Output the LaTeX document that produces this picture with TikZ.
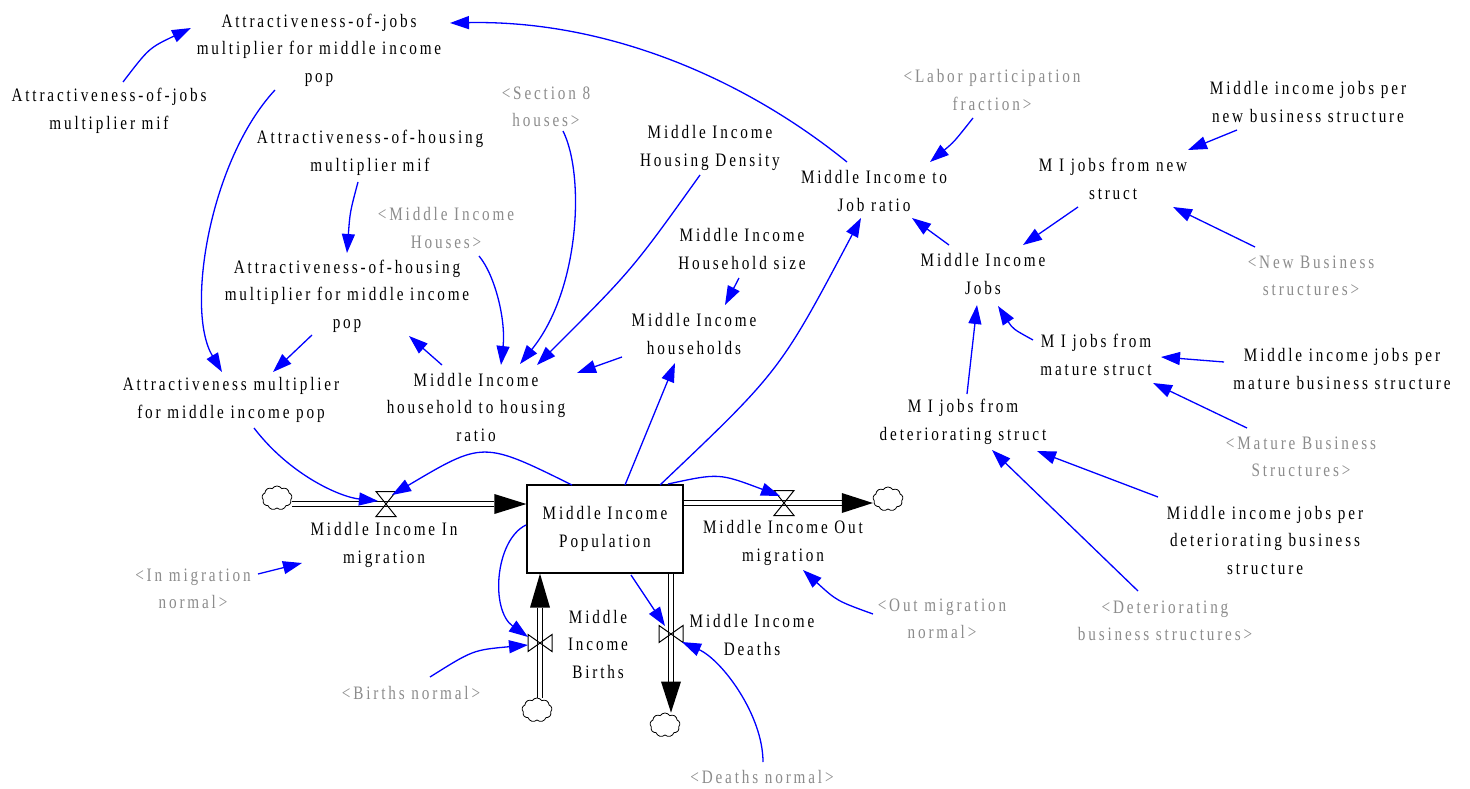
\documentclass[tikz,border=0pt]{standalone}
\usepackage{fontspec}
\setmainfont{Liberation Serif}[FakeStretch=0.8, LetterSpace=15]
\usetikzlibrary{arrows.meta,shapes.symbols,calc}
\definecolor{linkblue}{RGB}{0,0,255}
\definecolor{shadowtext}{RGB}{140,140,140}

\begin{document}
\begin{tikzpicture}[x=1pt,y=-1pt,
  var/.style={align=center, font=\fontsize{19}{27.5}\selectfont, inner sep=0pt},
  shadowvar/.style={var, text=shadowtext},
  link/.style={draw=linkblue, line width=1.3pt, -{Triangle[length=19pt,width=13pt]}},
  pipe/.style={draw=black, line width=1.1pt, double=white, double distance=4pt},
  cloudy/.style={cloud, cloud puffs=9, cloud puff arc=115, cloud ignores aspect,
    draw, line width=0.8pt, minimum width=30pt, minimum height=24pt, inner sep=0pt},
  hvalve/.pic={\draw[line width=1pt] (-10,-12.5) -- (10,-12.5) -- (-10,12.5) -- (10,12.5) -- cycle;},
  vvalve/.pic={\draw[line width=1pt] (-12,-8.5) -- (-12,8.5) -- (12,-8.5) -- (12,8.5) -- cycle;}
]
\fill[white] (0,0) rectangle (1470,789);
\useasboundingbox (0,0) rectangle (1470,789);

% ---- auxiliary variables ----
\node[var] (aojMulti) at (319,50) {Attractiveness-of-jobs\\multiplier for middle income\\pop};
\node[var] (aojMif) at (109,111) {Attractiveness-of-jobs\\multiplier mif};
\node[var] (aohMif) at (370,153) {Attractiveness-of-housing\\multiplier mif};
\node[shadowvar] (sec8) at (546,107) {<Section 8\\houses>};
\node[var] (density) at (710,148) {Middle Income\\Housing Density};
\node[var] (ratioJ) at (874,191) {Middle Income to\\Job ratio};
\node[shadowvar] (labor) at (992,90) {<Labor participation\\fraction>};
\node[var] (jpNew) at (1308,102) {Middle income jobs per\\new business structure};
\node[var] (mjNew) at (1113,179) {M I jobs from new\\struct};
\node[shadowvar] (mih) at (446,228) {<Middle Income\\Houses>};
\node[var] (hhsize) at (742,249) {Middle Income\\Household size};
\node[var] (jobs) at (983,274) {Middle Income\\Jobs};
\node[shadowvar] (newBS) at (1311,276) {<New Business\\structures>};
\node[var] (aohMulti) at (347,296) {Attractiveness-of-housing\\multiplier for middle income\\pop};
\node[var] (hholds) at (694,334) {Middle Income\\households};
\node[var] (attrMulti) at (231,400) {Attractiveness multiplier\\for middle income pop};
\node[var] (hhratio) at (476,407) {Middle Income\\household to housing\\ratio};
\node[var] (mjMature) at (1096,355) {M I jobs from\\mature struct};
\node[var] (jpMature) at (1342,369) {Middle income jobs per\\mature business structure};
\node[var] (mjDet) at (963,422) {M I jobs from\\deteriorating struct};
\node[shadowvar] (matureBS) at (1301,457) {<Mature Business\\Structures>};
\node[var] (jpDet) at (1265,540) {Middle income jobs per\\deteriorating business\\structure};
\node[shadowvar] (detBS) at (1165,621) {<Deteriorating\\business structures>};
\node[shadowvar] (inNorm) at (193,589) {<In migration\\normal>};
\node[shadowvar] (outNorm) at (942,619) {<Out migration\\normal>};
\node[shadowvar] (birthsNorm) at (411,693) {<Births normal>};
\node[shadowvar] (deathsNorm) at (762,777) {<Deaths normal>};

% ---- stock ----
\node[var, draw, line width=1.2pt, minimum width=156pt, minimum height=88pt] (stock) at (605,529) {Middle Income\\Population};

% ---- flow labels ----
\node[var] (inLbl) at (384,545) {Middle Income In\\migration};
\node[var] (outLbl) at (783,543) {Middle Income Out\\migration};
\node[var] (birthsLbl) at (598,644) {Middle\\Income\\Births};
\node[var] (deathsLbl) at (752,635) {Middle Income\\Deaths};

% ---- sources and sinks ----
\node[cloudy] (cin) at (277,498) {};
\node[cloudy] (cout) at (888,499) {};
\node[cloudy] (cbirth) at (537,710) {};
\node[cloudy] (cdeath) at (665,725) {};

% ---- valves ----
\coordinate (vin) at (386,504);
\coordinate (vout) at (784,503);
\coordinate (vbirth) at (540,643);
\coordinate (vdeath) at (671,634);

% ---- pipes ----
\draw[pipe] (cin.east |- vin) -- ($(stock.west |- vin)+(-32,0)$);
\fill (stock.west |- vin) -- ++(-32,-10) -- ++(0,20) -- cycle;
\draw[pipe] (stock.east |- vout) -- ($(cout.west |- vout)+(-31,0)$);
\fill (cout.west |- vout) -- ++(-31,-10) -- ++(0,20) -- cycle;
\draw[pipe] (vbirth |- cbirth.north) -- ($(vbirth |- stock.south)+(0,34)$);
\fill (vbirth |- stock.south) -- ++(-10,34) -- ++(20,0) -- cycle;
\draw[pipe] (vdeath |- stock.south) -- ($(vdeath |- cdeath.north)+(0,-31)$);
\fill (vdeath |- cdeath.north) -- ++(-10,-31) -- ++(20,0) -- cycle;

\pic at (vin) {hvalve};
\pic at (vout) {hvalve};
\pic at (vbirth) {vvalve};
\pic at (vdeath) {vvalve};

% ---- causal links ----
\draw[link] ($(aojMif)+(14,-29)$) .. controls (149,48) .. ($(aojMulti)+(-128,-22)$);
\draw[link] ($(ratioJ)+(-27,-29)$) .. controls (737,73) and (600,20) .. ($(aojMulti)+(131,-27)$);
\draw[link] ($(aojMulti)+(-44,40)$) .. controls (210,160) and (185,310) .. ($(attrMulti)+(-9,-28)$);
\draw[link] ($(aohMif)+(-12,29)$) .. controls (350,212) .. ($(aohMulti)+(0,-43)$);
\draw[link] ($(aohMulti)+(-35,39)$) -- ($(attrMulti)+(42,-28)$);
\draw[link] ($(hhratio)+(-34,-42)$) -- ($(aohMulti)+(62,40)$);
\draw[link] ($(mih)+(33,28)$) .. controls (495,275) and (506,320) .. ($(hhratio)+(25,-42)$);
\draw[link] ($(sec8)+(17,24)$) .. controls (585,175) and (580,290) .. ($(hhratio)+(44,-43)$);
\draw[link] ($(density)+(-10,27)$) .. controls (632,270) .. ($(hhratio)+(61,-42)$);
\draw[link] ($(hholds)+(-72,23)$) -- ($(hhratio)+(101,-34)$);
\draw[link] ($(hhsize)+(-3,29)$) -- ($(hholds)+(31,-29)$);
\draw[link] ($(stock)+(20,-44)$) -- ($(hholds)+(-19,29)$);
\draw[link] ($(stock)+(55,-44)$) .. controls (780,371) .. ($(ratioJ)+(-13,27)$);
\draw[link] ($(jobs)+(-34,-29)$) -- ($(ratioJ)+(38,27)$);
\draw[link] ($(labor)+(-19,28)$) .. controls (954,142) .. ($(ratioJ)+(56,-29)$);
\draw[link] ($(jpNew)+(-71,28)$) -- ($(mjNew)+(75,-29)$);
\draw[link] ($(newBS)+(-56,-29)$) -- ($(mjNew)+(60,28)$);
\draw[link] ($(mjNew)+(-35,28)$) -- ($(jobs)+(40,-29)$);
\draw[link] ($(mjMature)+(-63,-15)$) .. controls (1013,329) .. ($(jobs)+(15,32)$);
\draw[link] ($(mjDet)+(4,-28)$) -- ($(jobs)+(-6,31)$);
\draw[link] ($(jpMature)+(-118,-7)$) -- ($(mjMature)+(65,2)$);
\draw[link] ($(matureBS)+(-54,-29)$) -- ($(mjMature)+(57,28)$);
\draw[link] ($(jpDet)+(-107,-43)$) -- ($(mjDet)+(74,29)$);
\draw[link] ($(detBS)+(-27,-30)$) -- ($(mjDet)+(29,28)$);
\draw[link] ($(attrMulti)+(23,28)$) .. controls (290,475) and (340,497) .. ($(vin)+(-8,-3)$);
\draw[link] ($(stock)+(-33,-44)$) .. controls (483,441) .. ($(vin)+(6,-9)$);
\draw[link] ($(stock)+(63,-45)$) .. controls (719,473) .. ($(vout)+(-4,-7)$);
\draw[link] ($(stock)+(-79,-4)$) .. controls (495,540) and (490,610) .. ($(vbirth)+(-12,-6)$);
\draw[link] ($(birthsNorm)+(19,-16)$) .. controls (473,650) .. ($(vbirth)+(-12,2)$);
\draw[link] ($(stock)+(26,46)$) -- ($(vdeath)+(-6,-8)$);
\draw[link] ($(deathsNorm)+(1,-15)$) .. controls (763,715) and (722,660) .. ($(vdeath)+(11,8)$);
\draw[link] ($(outNorm)+(-69,-5)$) .. controls (837,601) .. ($(outLbl)+(20,27)$);
\draw[link] ($(inNorm)+(65,-15)$) -- ($(inLbl)+(-82,18)$);
\end{tikzpicture}
\end{document}
